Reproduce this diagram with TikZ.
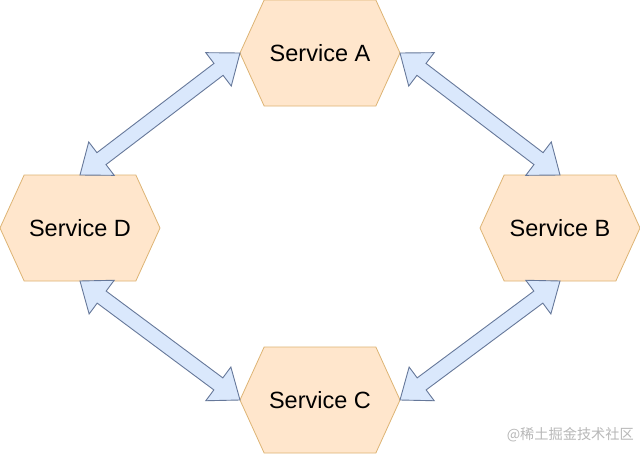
\documentclass[tikz,border=0pt]{standalone}
\usepackage{fontspec}
\setmainfont{Liberation Sans}
\newfontfamily\cjk{Noto Sans CJK SC}
\usetikzlibrary{shapes.symbols,calc}
\definecolor{hexfill}{HTML}{FFE6CC}
\definecolor{hexline}{HTML}{DDB474}
\definecolor{arrfill}{HTML}{DAE8FC}
\definecolor{arrline}{HTML}{66789A}
\tikzset{
  hexnode/.style={shape=signal, signal to=east and west, signal pointer angle=131,
    minimum width=160pt, minimum height=106pt, inner sep=0pt, outer sep=0pt,
    draw=hexline, fill=hexfill, line width=0.8pt, font=\fontsize{23.5}{27}\selectfont},
  blockarr/.style={draw=arrline, fill=arrfill, line width=0.9pt, line join=miter},
  wm/.style={text=black!28, font=\cjk\fontsize{14.2}{16}\selectfont, anchor=east, inner sep=0pt}
}
\newcommand\blockarrow[2]{%
  \draw[blockarr] (#1)
   -- ($(#1)!27pt!(#2)!21pt!90:(#2)$)
   -- ($(#1)!27pt!(#2)!7.5pt!90:(#2)$)
   -- ($(#2)!27pt!(#1)!7.5pt!-90:(#1)$)
   -- ($(#2)!27pt!(#1)!21pt!-90:(#1)$)
   -- (#2)
   -- ($(#2)!27pt!(#1)!21pt!90:(#1)$)
   -- ($(#2)!27pt!(#1)!7.5pt!90:(#1)$)
   -- ($(#1)!27pt!(#2)!7.5pt!-90:(#2)$)
   -- ($(#1)!27pt!(#2)!21pt!-90:(#2)$)
   -- cycle;}
\begin{document}
\begin{tikzpicture}[x=1pt,y=-1pt]
\useasboundingbox (0,0) rectangle (640,455);
\fill[white] (0,0) rectangle (640,455);
\node[hexnode] (A) at (320,53) {Service A};
\node[hexnode] (B) at (560,228) {Service B};
\node[hexnode] (C) at (320,400) {Service C};
\node[hexnode] (D) at (80,228) {Service D};
\blockarrow{A.east}{B.north}
\blockarrow{A.west}{D.north}
\blockarrow{D.south}{C.west}
\blockarrow{C.east}{B.south}
\node[wm] (W) at (634,435) {@稀土掘金技术社区};
\end{tikzpicture}
\end{document}
